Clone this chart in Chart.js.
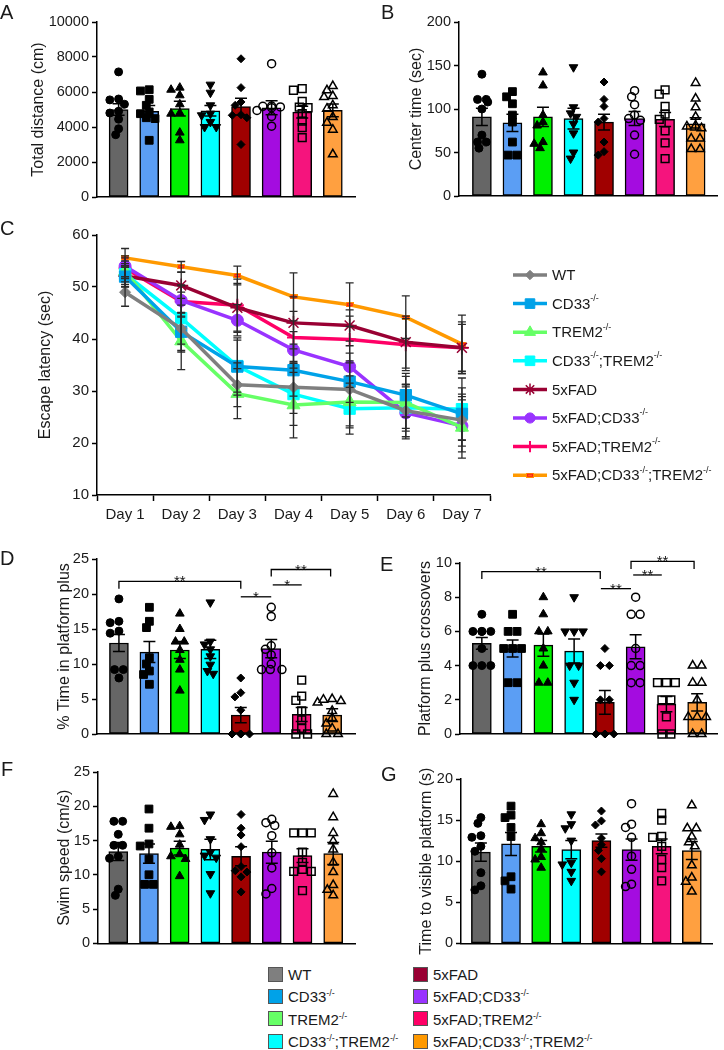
<!DOCTYPE html>
<html><head><meta charset="utf-8">
<script src="https://cdn.jsdelivr.net/npm/chart.js@4/dist/chart.umd.min.js"></script>
<style>
html,body{margin:0;padding:0;background:#fff;}
#wrap{position:relative;width:724px;height:1050px;overflow:hidden;font-family:'Liberation Sans',Arial,sans-serif;color:#1a1a1a;}
canvas{position:absolute;}
.lab{position:absolute;font-size:20px;line-height:20px;}
.leg{position:absolute;font-size:15px;line-height:15px;white-space:nowrap;}
.sw{position:absolute;width:13px;height:13px;border:1px solid #555;}
sup{font-size:9px;vertical-align:0;position:relative;top:-6px;}
</style></head><body><div id="wrap"></div>
<script>
// ---------------- DATA ----------------
const groups = ['WT','CD33-/-','TREM2-/-','CD33-/-;TREM2-/-','5xFAD','5xFAD;CD33-/-','5xFAD;TREM2-/-','5xFAD;CD33-/-;TREM2-/-'];
const barColors = ['#666666','#5b9ef4','#00f000','#00ffff','#a00000','#a40ce0','#f5147d','#ffa040'];
const lineColors = ['#7f7f7f','#00a2e8','#66ff66','#00ffff','#990033','#9933ff','#ff0066','#ff9900'];
const days = ['Day 1','Day 2','Day 3','Day 4','Day 5','Day 6','Day 7'];

// A: Total distance (cm)
const distMean = [5000,4900,5050,4930,5170,5100,4850,4950];
const distSem = [330,330,420,300,480,400,330,370];
const distPts = [
  [7150,5600,5550,5300,4900,4800,4450,3900,3560],
  [6130,6060,5580,5240,4860,4760,4530,4480,3240],
  [6250,6130,5810,5300,4800,4760,3680,3240],
  [6420,5960,5240,4760,4670,4290,4000,4000],
  [7900,6250,5430,5240,4700,4670,4530,3000],
  [7620,5200,5180,5150,5100,4950,4600,4050],
  [6190,6100,5470,5140,5100,4760,4340,3960,3390],
  [6340,6100,5770,5710,5240,5050,4570,4250,3850,2440]];

// B: Center time (sec)
const ctMean = [91,84,91,89,85,89,88,83];
const ctSem = [10,10,11,12,9,8,8,7];
const ctPts = [
  [140,111,111,108,100,70,62,62,55],
  [120,114,106,93,85,62,47,47],
  [142,127,93,85,81,62,60,55],
  [148,102,95,91,83,72,50,43],
  [131,111,103,89,85,62,51,47],
  [121,114,105,93,89,87,70,48],
  [122,117,103,94,88,75,61,43],
  [130,112,102,91,81,80,78,66,66,54,54]];

// C: Escape latency (sec)
const latWT      = [49.0,42.0,31.2,30.7,30.3,26.2,24.4];
const latCD33    = [52.0,41.4,34.7,34.0,31.8,29.2,25.6];
const latTREM2   = [53.0,39.6,29.5,27.3,27.9,27.8,23.0];
const latDKO     = [52.5,44.0,34.8,29.4,26.6,26.8,26.5];
const lat5x      = [52.1,50.3,46.0,43.1,42.6,39.4,38.3];
const lat5xCD33  = [54.0,47.4,43.6,37.9,34.7,25.8,23.3];
const lat5xTREM2 = [53.6,47.2,46.5,40.3,39.9,38.9,38.3];
const lat5xDKO   = [55.6,53.9,52.2,48.1,46.6,44.2,39.0];
const semWT      = [2.7,4.5,4.2,5.0,7.0,5.0,5.0];
const semCD33    = [2.0,3.6,5.5,5.0,4.0,4.2,5.0];
const semTREM2   = [2.0,5.5,4.8,6.3,5.0,5.0,5.9];
const semDKO     = [2.0,5.0,5.0,6.0,4.9,4.5,6.0];
const sem5x      = [2.0,2.5,4.7,5.0,3.0,5.0,5.0];
const sem5xCD33  = [2.0,3.0,3.0,3.5,4.0,5.0,5.0];
const sem5xTREM2 = [2.0,3.0,5.0,5.0,4.5,5.0,4.5];
const sem5xDKO   = [1.8,1.0,1.8,4.6,4.2,4.1,5.6];

// D: % Time in platform plus
const tpMean = [13.0,11.7,12.0,12.1,2.7,12.2,2.8,2.7];
const tpSem = [1.2,1.5,1.2,1.3,1.1,1.3,1.0,0.9];
const tpPts = [
  [19.3,16.1,15.9,14.7,14.4,9.2,9.2,8.0],
  [18.1,16.1,15.2,10.9,10.0,9.0,8.5,7.1],
  [17.2,15.0,13.2,13.2,12.0,10.6,9.2,6.2],
  [18.8,13.2,12.8,12.1,11.1,9.9,9.0,8.6],
  [8.0,5.9,5.3,3.4,0,0,0,0],
  [18.1,16.8,12.6,12.1,11.3,10.0,9.2,9.2,9.2],
  [7.7,5.4,4.8,3.3,2.0,0.8,0,0],
  [5.0,4.9,4.7,4.5,3.3,2.3,1.5,0.8,0,0]];
const tpSig = [[0,4,21.8,1.05,'**'],[4,5,19.6,0,'*'],[5.05,6,21.3,0,'*'],[5,6.95,23.5,1.0,'**']];

// E: Platform plus crossovers
const cxMean = [5.3,5.0,5.2,4.85,1.85,5.1,1.75,1.85];
const cxSem = [0.35,0.5,0.65,0.7,0.7,0.7,0.45,0.5];
const cxPts = [
  [7,6,6,6,6,5,4,4,4],
  [7,6,6,5,5,5,3,3],
  [8,7,6,6,5,4,3,3],
  [8,6,6,6,4,4,3,2],
  [5,4,4,2,2,0,0,0,0],
  [8,7,7,5,4,4,3,3],
  [3,3,3,2,2,1,0,0],
  [4,4,3,3,2,1,1,1,0,0]];
const cxSig = [[0,3.85,9.5,0.43,'**'],[3.87,4.85,8.5,0,'**'],[4.92,5.85,9.3,0,'**'],[4.85,6.9,10.1,0.45,'**']];

// F: Swim speed (cm/s)
const spMean = [13.4,13.1,13.9,13.7,12.7,13.3,12.8,13.1];
const spSem = [1.3,1.4,1.0,1.5,1.4,1.6,1.0,1.6];
const spPts = [
  [17.8,17.8,15.9,14.3,14.3,12.7,12.4,7.9,7.0],
  [19.6,16.8,14.5,14.2,12.3,10.0,8.6,8.6],
  [17.1,17.0,15.9,14.4,13.0,12.7,12.3,9.8],
  [18.8,18.0,15.2,13.3,12.8,12.5,10.1,7.3],
  [18.8,16.8,15.8,14.1,11.2,10.6,10.4,9.7,7.5],
  [18.1,17.6,17.2,15.7,13.2,11.0,8.0,7.2],
  [16.1,16.1,16.1,13.3,11.8,10.8,10.5,10.5,7.7],
  [21.8,18.4,16.1,14.9,13.7,11.8,10.4,8.5,7.8,7.0]];

// G: Time to visible platform (s)
const vpMean = [11.1,12.1,11.8,11.4,12.5,11.4,11.8,11.3];
const vpSem = [1.1,1.4,0.7,1.1,0.8,1.3,0.9,1.1];
const vpPts = [
  [15.3,14.6,13.1,12.9,11.8,11.2,8.6,7.0,6.5],
  [16.7,15.6,15.3,14.1,13.0,8.1,7.6,6.6],
  [14.5,13.4,12.8,12.3,11.5,10.5,10.2,9.2],
  [15.7,14.5,14.0,12.5,9.8,9.6,8.7,7.6],
  [16.1,14.9,14.4,12.8,12.0,11.3,10.3,8.7],
  [17.0,14.5,14.1,12.9,10.6,9.0,7.2,6.9],
  [15.8,15.0,13.0,12.9,11.8,10.2,9.2,7.6],
  [16.8,14.0,14.0,13.0,12.3,11.8,9.5,8.0,7.5,6.3]];

// ---------------- RENDER ----------------
const FONT = "'Liberation Sans', Arial, sans-serif";
Chart.defaults.font.family = FONT;
Chart.defaults.color = '#1a1a1a';
const wrap = document.getElementById('wrap');

function mkCanvas(L,T,W,H){
  const c = document.createElement('canvas');
  c.width = W; c.height = H;
  c.style.left = L+'px'; c.style.top = T+'px';
  c.style.width = W+'px'; c.style.height = H+'px';
  wrap.appendChild(c); return c;
}
function letter(t,x,y){
  const d = document.createElement('div'); d.className='lab'; d.textContent=t;
  d.style.left=x+'px'; d.style.top=y+'px'; wrap.appendChild(d);
}
const markers = [
  {style:'circle', r:4, rot:0, open:false},
  {style:'rect', r:5.5, rot:0, open:false},
  {style:'triangle', r:5, rot:0, open:false},
  {style:'triangle', r:5, rot:180, open:false},
  {style:'rectRot', r:4, rot:0, open:false},
  {style:'circle', r:4, rot:0, open:true},
  {style:'rect', r:5.5, rot:0, open:true},
  {style:'triangle', r:5, rot:0, open:true}];

function swarm(vals, pxY){
  const idx = vals.map((v,i)=>i).sort((a,b)=>vals[b]-vals[a]);
  const placed = []; const off = new Array(vals.length).fill(0);
  const cands = [0,-3,3,-6,6,-9,9,-12,12,-15,15];
  for (const i of idx){
    const y = vals[i]*pxY;
    for (const c of cands){
      if (placed.every(p => Math.hypot(p.x-c, p.y-y) >= 6.5)){ placed.push({x:c,y}); off[i]=c; break; }
    }
  }
  const byVal = {};
  vals.forEach((v,i)=>{ (byVal[v] = byVal[v] || []).push(i); });
  Object.values(byVal).forEach(g=>{ if (g.length>1){ const m = g.reduce((s,i)=>s+off[i],0)/g.length; g.forEach(i=>off[i]-=m); } });
  return off;
}

function errPlugin(mean, sem){
  return {id:'errbars', afterDatasetDraw(chart, args){
    if (args.index !== 0) return;
    const {ctx, scales:{x,y}} = chart;
    ctx.save(); ctx.strokeStyle='#000'; ctx.lineWidth=1.5;
    mean.forEach((m,i)=>{
      const px = x.getPixelForValue(i), yt = y.getPixelForValue(m+sem[i]), yb = y.getPixelForValue(m-sem[i]);
      ctx.beginPath();
      ctx.moveTo(px,yt); ctx.lineTo(px,yb);
      ctx.moveTo(px-6,yt); ctx.lineTo(px+6,yt);
      ctx.moveTo(px-6,yb); ctx.lineTo(px+6,yb);
      ctx.stroke();
    });
    ctx.restore();
  }};
}
function sigPlugin(sig){
  return {id:'sig', afterDraw(chart){
    const {ctx, scales:{x,y}} = chart;
    ctx.save(); ctx.strokeStyle='#000'; ctx.lineWidth=1.3; ctx.fillStyle='#111';
    ctx.font = '15px '+FONT; ctx.textAlign='center'; ctx.textBaseline='alphabetic';
    sig.forEach(([a,b,v,drop,label])=>{
      const x1=x.getPixelForValue(a), x2=x.getPixelForValue(b), yy=y.getPixelForValue(v);
      ctx.beginPath();
      if (drop){ const yd=y.getPixelForValue(v-drop); ctx.moveTo(x1,yd); ctx.lineTo(x1,yy); ctx.lineTo(x2,yy); ctx.lineTo(x2,yd); }
      else { ctx.moveTo(x1,yy); ctx.lineTo(x2,yy); }
      ctx.stroke();
      ctx.fillText(label,(x1+x2)/2,yy+5);
    });
    ctx.restore();
  }};
}

function yAxis(opt){
  return {
    min:0, max:opt.ymax, afterFit:s=>{ s.width = opt.yW; },
    ticks:{stepSize:opt.step, font:{size:14.5}, color:'#1a1a1a', padding:3, callback:v=>String(v)},
    grid:{display:true, drawOnChartArea:false, drawTicks:true, tickLength:5, tickColor:'#000', tickWidth:1.5},
    border:{display:true, color:'#000', width:1.5},
    title:{display:true, text:opt.title, font:{size:16}, color:'#1a1a1a', padding:{top:opt.tPad, bottom:0}}
  };
}

function barPanel(o){
  const cv = mkCanvas(o.L,o.T,o.W,o.H);
  const pxY = (o.PB-o.PT)/o.ymax;
  const pxX = (o.axisEnd-o.axisX)/(o.xmax-o.xmin);
  const datasets = [{type:'bar', data:o.mean.map((v,i)=>({x:i,y:v})), backgroundColor:barColors,
    borderColor:'#000', borderWidth:1.5, borderSkipped:false, barThickness:19, order:2}];
  o.pts.forEach((vals,g)=>{
    const off = swarm(vals,pxY); const mk = markers[g];
    datasets.push({type:'scatter', data:vals.map((v,k)=>({x:g+off[k]/pxX, y:v})), showLine:false,
      pointStyle:mk.style, pointRadius:mk.r, pointRotation:mk.rot,
      pointBackgroundColor: mk.open ? 'rgba(0,0,0,0)' : '#000', pointBorderColor:'#000',
      pointBorderWidth: mk.open ? 1.5 : 1, clip:false, order:1});
  });
  new Chart(cv, {type:'bar', data:{datasets},
    options:{responsive:false, animation:false, devicePixelRatio:1,
      layout:{padding:{left:0, right:o.L+o.W-o.axisEnd, top:o.PT-o.T, bottom:o.T+o.H-o.PB-12}},
      plugins:{legend:{display:false}, tooltip:{enabled:false}},
      scales:{
        x:{type:'linear', offset:false, min:o.xmin, max:o.xmax, afterFit:s=>{ s.height=12; },
           ticks:{display:false}, grid:{display:false}, border:{display:true,color:'#000',width:1.5}},
        y:yAxis({ymax:o.ymax, step:o.step, yW:o.axisX-o.L, title:o.title, tPad:o.titleX-8})
      }},
    plugins:[errPlugin(o.mean,o.sem)].concat(o.sig ? [sigPlugin(o.sig)] : [])});
}

// Panels A, B
barPanel({L:0,T:0,W:362,H:210,PT:22,PB:197,axisX:97,axisEnd:362,xmin:-0.706,xmax:7.725,ymax:10000,step:2000,
  title:'Total distance (cm)',titleX:37,mean:distMean,sem:distSem,pts:distPts});
barPanel({L:362,T:0,W:362,H:210,PT:22,PB:196,axisX:459,axisEnd:724,xmin:-0.75,xmax:7.7,ymax:200,step:50,
  title:'Center time (sec)',titleX:53,mean:ctMean,sem:ctSem,pts:ctPts});
// Panels D, E
barPanel({L:0,T:490,W:362,H:260,PT:559,PB:734,axisX:97,axisEnd:362,xmin:-0.72,xmax:7.75,ymax:25,step:5,
  title:'% Time in platform plus',titleX:63,mean:tpMean,sem:tpSem,pts:tpPts,sig:tpSig});
barPanel({L:362,T:490,W:362,H:260,PT:563,PB:734,axisX:460,axisEnd:719,xmin:-0.71,xmax:7.645,ymax:10,step:2,
  title:'Platform plus crossovers',titleX:62,mean:cxMean,sem:cxSem,pts:cxPts,sig:cxSig});
// Panels F, G
barPanel({L:0,T:740,W:362,H:215,PT:772,PB:948,axisX:98,axisEnd:362,xmin:-0.66,xmax:7.71,ymax:25,step:5,
  title:'Swim speed (cm/s)',titleX:63,mean:spMean,sem:spSem,pts:spPts});
barPanel({L:362,T:740,W:362,H:215,PT:779,PB:947,axisX:461,axisEnd:712,xmin:-0.66,xmax:7.67,ymax:20,step:5,
  title:'Time to visible platform (s)',titleX:63,mean:vpMean,sem:vpSem,pts:vpPts});

// Panel C
const oMark = document.createElement('canvas'); oMark.width=8; oMark.height=5;
(function(){ const c=oMark.getContext('2d'); c.fillStyle='#ff9900'; c.fillRect(0,0,8,5); c.strokeStyle='#ff1a1a'; c.lineWidth=1.2; c.strokeRect(1.5,1.5,5,2); })();
const latSeries = [latWT,latCD33,latTREM2,latDKO,lat5x,lat5xCD33,lat5xTREM2,lat5xDKO];
const latSems = [semWT,semCD33,semTREM2,semDKO,sem5x,sem5xCD33,sem5xTREM2,sem5xDKO];
const cMarks = [
  {style:'rectRot', r:5.5, bw:1},
  {style:'rect', r:8, bw:1},
  {style:'triangle', r:7.5, bw:1},
  {style:'rect', r:8, bw:1},
  {style:'star', r:7, bw:1.5},
  {style:'circle', r:6, bw:1},
  {style:'cross', r:6.5, bw:2},
  {style:oMark, r:4, bw:0}];
const cv = mkCanvas(0,190,724,340);
const errC = {id:'errC', afterDatasetsDraw(chart){
  const {ctx, scales:{x,y}} = chart;
  ctx.save(); ctx.strokeStyle='#2a2a2a'; ctx.lineWidth=1.3;
  latSeries.forEach((s,k)=>s.forEach((m,i)=>{
    const px=x.getPixelForValue(i), yt=y.getPixelForValue(m+latSems[k][i]), yb=y.getPixelForValue(m-latSems[k][i]);
    ctx.beginPath(); ctx.moveTo(px,yt); ctx.lineTo(px,yb);
    ctx.moveTo(px-4,yt); ctx.lineTo(px+4,yt); ctx.moveTo(px-4,yb); ctx.lineTo(px+4,yb); ctx.stroke();
  }));
  ctx.restore();
}};
function richText(ctx, label, x, y, size){
  let cx = x;
  label.split(/(-\/-)/).forEach(t=>{
    if (!t) return;
    const sup = t === '-/-';
    ctx.font = (sup ? 9 : size)+'px '+FONT;
    ctx.fillText(t, cx, sup ? y-6 : y);
    cx += ctx.measureText(t).width;
  });
}
const legC = {id:'legC', afterDraw(chart){
  const ctx = chart.ctx; ctx.save();
  groups.forEach((g,k)=>{
    const y = 85 + k*28.6;
    ctx.strokeStyle = lineColors[k]; ctx.lineWidth = 3.5;
    ctx.beginPath(); ctx.moveTo(513,y); ctx.lineTo(547,y); ctx.stroke();
    const mk = cMarks[k];
    ctx.fillStyle = lineColors[k]; ctx.strokeStyle = lineColors[k]; ctx.lineWidth = mk.bw;
    Chart.helpers.drawPoint(ctx, {pointStyle:mk.style, radius:mk.r*0.85, rotation:0, borderWidth:mk.bw}, 530, y);
    ctx.fillStyle = '#1a1a1a'; ctx.textAlign='left'; ctx.textBaseline='middle';
    richText(ctx, g, 552, y+1, 15);
  });
  ctx.restore();
}};
new Chart(cv, {type:'line',
  data:{labels:days, datasets:latSeries.map((s,k)=>({data:s, borderColor:lineColors[k], backgroundColor:lineColors[k],
    borderWidth:3.5, tension:0, pointStyle:cMarks[k].style, pointRadius:cMarks[k].r,
    pointBackgroundColor:lineColors[k], pointBorderColor:lineColors[k], pointBorderWidth:cMarks[k].bw, clip:false}))},
  options:{responsive:false, animation:false, devicePixelRatio:1,
    layout:{padding:{left:0,right:234,top:45,bottom:5}},
    plugins:{legend:{display:false}, tooltip:{enabled:false}},
    scales:{
      x:{offset:true, afterFit:s=>{ s.height=30; },
         grid:{display:true, offset:true, drawOnChartArea:false, drawTicks:true, tickLength:6, tickColor:'#000', tickWidth:1.5},
         border:{display:true,color:'#000',width:1.5}, ticks:{font:{size:15}, color:'#1a1a1a', padding:5}},
      y:{min:10, max:60, afterFit:s=>{ s.width=97; },
         ticks:{stepSize:10, font:{size:15}, color:'#1a1a1a', padding:3},
         grid:{display:true, drawOnChartArea:false, drawTicks:true, tickLength:5, tickColor:'#000', tickWidth:1.5},
         border:{display:true,color:'#000',width:1.5},
         title:{display:true, text:'Escape latency (sec)', font:{size:16}, color:'#1a1a1a', padding:{top:36,bottom:0}}}
    }},
  plugins:[errC, legC]});

// Panel letters
letter('A',0,2); letter('B',381,2); letter('C',0,218); letter('D',0,548);
letter('E',380,554); letter('F',1,759); letter('G',381,764);

// Bottom legend
groups.forEach((g,k)=>{
  const col = k < 4 ? 0 : 1, row = k % 4;
  const y = 974 + row*22.4;
  const sx = col ? 413 : 268;
  const sw = document.createElement('div'); sw.className='sw';
  sw.style.left = sx+'px'; sw.style.top = (y-7.5)+'px'; sw.style.background = lineColors[k];
  wrap.appendChild(sw);
  const t = document.createElement('div'); t.className='leg';
  t.style.left = (sx+20)+'px'; t.style.top = (y-7.3)+'px';
  t.innerHTML = g.replace(/-\/-/g,'<sup>-/-</sup>');
  wrap.appendChild(t);
});
</script></body></html>
